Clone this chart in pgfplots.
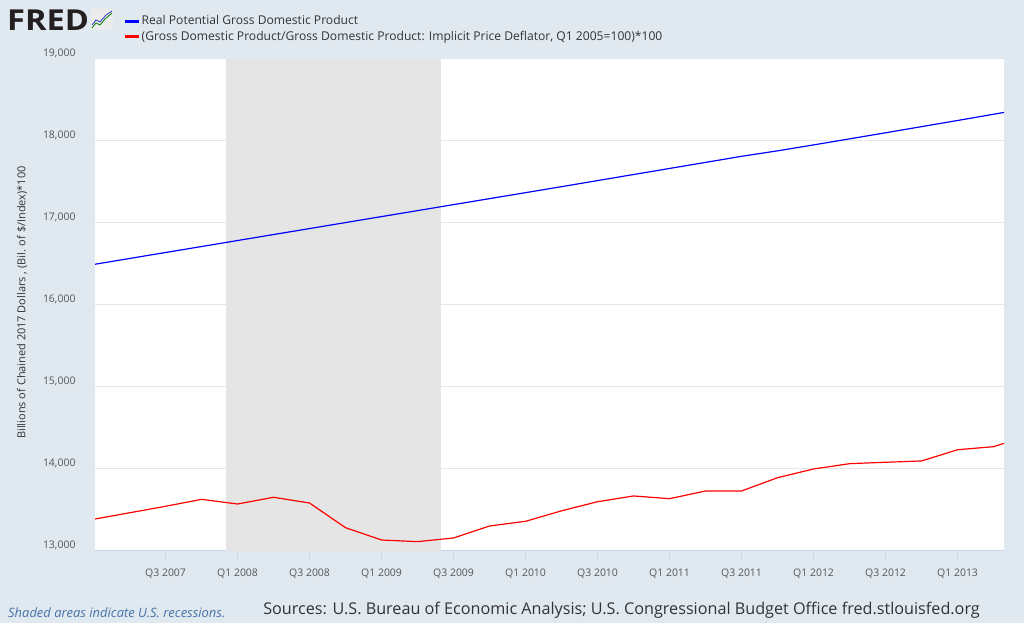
\documentclass[border=0pt]{standalone}
\usepackage{fontspec}
\setmainfont{Open Sans}
\usepackage{pgfplots}
\pgfplotsset{compat=1.18}
\usepackage{pgfplotstable}
\definecolor{bg}{HTML}{E1E9F0}
\definecolor{tickc}{HTML}{CCD6EB}
\definecolor{gridc}{HTML}{E6E6E6}
\definecolor{rec}{HTML}{E5E5E5}
\definecolor{txt}{HTML}{333333}
\definecolor{lbl}{HTML}{555555}
\definecolor{shade}{HTML}{4572A7}
\definecolor{fredblk}{HTML}{231F20}

\pgfplotstableread{
q v
0 16494
1 16567
2 16640
3 16713
4 16786
5 16859
6 16932
7 17005
8 17078
9 17151
10 17224
11 17297
12 17370
13 17443
14 17517
15 17591
16 17665
17 17739
18 17813
19 17880
20 17952
21 18026
22 18100
23 18175
24 18250
25 18326
26 18402
}\potential

\pgfplotstableread{
q v
0 13387
1 13466
2 13545
3 13630
4 13573
5 13655
6 13585
7 13284
8 13134
9 13114
10 13159
11 13305
12 13362
13 13490
14 13601
15 13671
16 13638
17 13732
18 13732
19 13894
20 14000
21 14065
22 14082
23 14098
24 14235
25 14272
26 14410
}\real

\begin{document}
\begin{tikzpicture}[x=1bp,y=1bp]
\fill[bg] (0,0) rectangle (1024,623);
\useasboundingbox (0,0) rectangle (1024,623);
% FRED logo
\node[anchor=base west, inner sep=0pt, text=fredblk, font=\fontsize{29}{29}\selectfont\bfseries, xscale=1.13, transform shape] at (7,592) {FRED};
\fill[white!85!gray, rounded corners=2bp] (91,593) rectangle (113,614);
\draw[green!50!black, line width=0.8bp] (92,595) -- (96,600) -- (100,598) -- (105,604) -- (112,610);
\draw[blue!60!gray, line width=0.8bp] (92,598) -- (96,603) -- (100,601) -- (106,608) -- (112,612);

\begin{axis}[
  at={(95bp,72bp)}, anchor=south west,
  scale only axis, width=909bp, height=492bp,
  xmin=0.04, xmax=25.29, ymin=13000, ymax=19000,
  axis background/.style={fill=white},
  axis lines*=left,
  x axis line style={tickc, line width=1bp},
  y axis line style={draw=none},
  ytick={13000,14000,...,19000},
  scaled y ticks=false,
  xtick={2,4,...,24},
  xticklabels={Q3 2007,Q1 2008,Q3 2008,Q1 2009,Q3 2009,Q1 2010,Q3 2010,Q1 2011,Q3 2011,Q1 2012,Q3 2012,Q1 2013},
  tick align=outside,
  major tick length=10bp,
  xtick style={tickc, line width=1bp},
  ytick style={draw=none},
  ymajorgrids,
  grid style={gridc, line width=1bp},
  /pgf/number format/.cd, 1000 sep={,}, assume math mode=true,
  /pgfplots/.cd,
  yticklabel style={font=\fontsize{10.5}{12}\selectfont, text=lbl, xshift=-6bp, yshift=6bp},
  xticklabel style={font=\fontsize{10.5}{12}\selectfont, text=lbl, yshift=-4bp},
  ylabel={Billions of Chained 2017 Dollars , (Bil. of \$/Index)*100},
  ylabel style={at={(axis description cs:-0.0803,0.505)}, anchor=center, font=\fontsize{11}{12}\selectfont, text=txt},
  legend style={at={(axis description cs:0.0308,1.0915)}, anchor=north west, draw=none, fill=none,
    font=\fontsize{12.15}{13}\selectfont, text=txt, row sep=2bp, inner sep=0pt,
    nodes={inner sep=1.5bp}},
  legend cell align=left,
  legend image code/.code={\draw[#1, line width=3bp] (0bp,0bp) -- (14bp,0bp);},
  clip=true,
]
\fill[rec] (axis cs:3.675,13000) rectangle (axis cs:9.647,19000);
\addplot[blue, line width=1.2bp, no marks] table[x=q, y=v] {\potential};
\addlegendentry{Real Potential Gross Domestic Product}
\addplot[red, line width=1.2bp, no marks] table[x=q, y=v] {\real};
\addlegendentry{(Gross Domestic Product/Gross Domestic Product: Implicit Price Deflator, Q1 2005=100)*100}
\end{axis}

\node[anchor=base west, inner sep=0pt, text=shade, font=\fontsize{13}{14}\selectfont\itshape] at (8,5.5) {Shaded areas indicate U.S. recessions.};
\node[anchor=base east, inner sep=0pt, text=txt, font=\fontsize{16.25}{18}\selectfont] at (980,8) {Sources: U.S. Bureau of Economic Analysis; U.S. Congressional Budget Office fred.stlouisfed.org};
\end{tikzpicture}
\end{document}
